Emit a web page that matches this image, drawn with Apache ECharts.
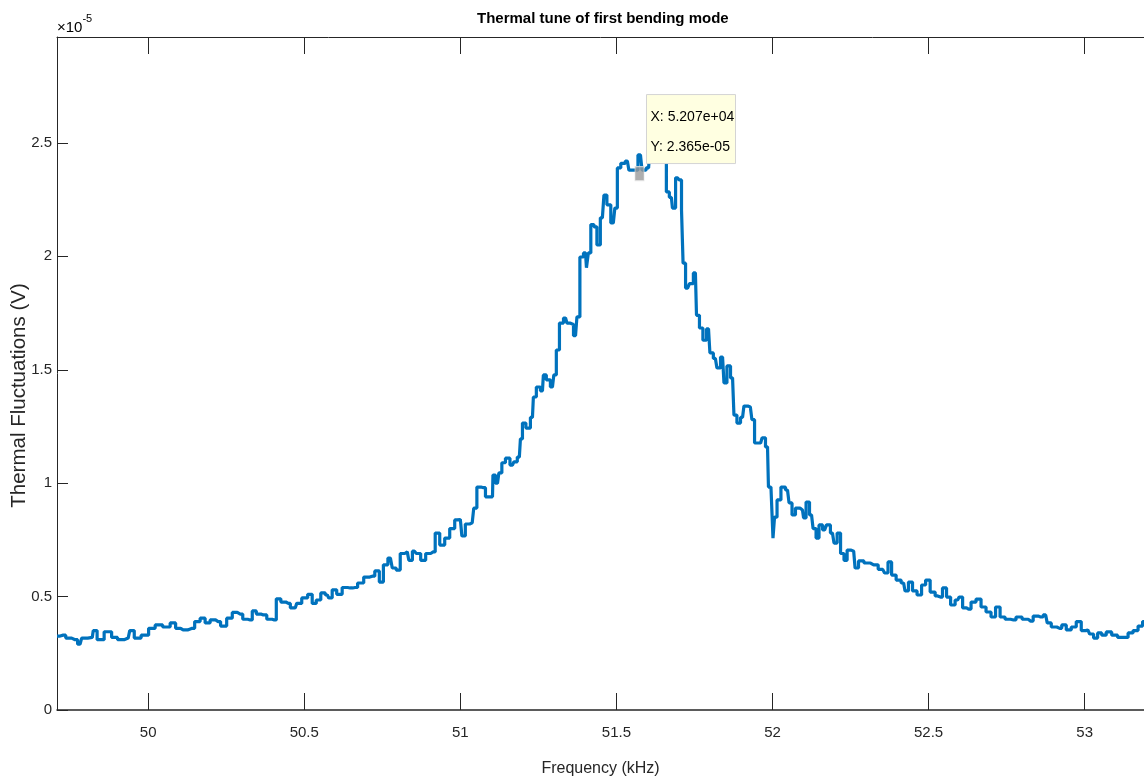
<!DOCTYPE html>
<html>
<head>
<meta charset="utf-8">
<script src="https://cdn.jsdelivr.net/npm/echarts@6/dist/echarts.min.js"></script>
<style>
  html, body { margin: 0; padding: 0; background: #fff; }
  #canvas { width: 1144px; height: 782px; }
</style>
</head>
<body>
<div id="canvas"></div>
<script>
// frequency in kHz, amplitude in units of 1e-5 V
const freqKHz = [
  49.708, 49.728, 49.744, 49.766, 49.782, 49.792, 49.821, 49.827, 49.846, 49.872,
  49.894, 49.910, 49.936, 49.946, 49.965, 49.990, 50.013, 50.032, 50.061, 50.080,
  50.096, 50.112, 50.141, 50.157, 50.176, 50.189, 50.208, 50.224, 50.240, 50.263,
  50.276, 50.295, 50.311, 50.327, 50.340, 50.353, 50.369, 50.391, 50.404, 50.417,
  50.433, 50.449, 50.462, 50.471, 50.481, 50.503, 50.519, 50.532, 50.545, 50.561,
  50.574, 50.583, 50.596, 50.612, 50.631, 50.647, 50.663, 50.679, 50.702, 50.718,
  50.734, 50.747, 50.760, 50.776, 50.788, 50.801, 50.814, 50.830, 50.840, 50.853,
  50.865, 50.881, 50.897, 50.913, 50.926, 50.942, 50.958, 50.974, 50.990, 51.000,
  51.010, 51.022, 51.038, 51.048, 51.058, 51.074, 51.087, 51.103, 51.106, 51.119,
  51.128, 51.138, 51.151, 51.167, 51.176, 51.189, 51.196, 51.202, 51.218, 51.231,
  51.237, 51.250, 51.263, 51.269, 51.282, 51.295, 51.304, 51.311, 51.324, 51.337,
  51.346, 51.356, 51.369, 51.378, 51.388, 51.401, 51.407, 51.413, 51.423, 51.433,
  51.442, 51.455, 51.465, 51.474, 51.490, 51.500, 51.506, 51.522, 51.535, 51.545,
  51.561, 51.577, 51.587, 51.603, 51.612, 51.631, 51.647, 51.657, 51.663, 51.676,
  51.683, 51.696, 51.705, 51.712, 51.715, 51.728, 51.740, 51.753, 51.760, 51.772,
  51.782, 51.795, 51.804, 51.817, 51.827, 51.840, 51.849, 51.859, 51.872, 51.881,
  51.891, 51.904, 51.913, 51.929, 51.939, 51.946, 51.962, 51.971, 51.984, 51.990,
  52.000, 52.003, 52.010, 52.019, 52.035, 52.048, 52.058, 52.067, 52.080, 52.096,
  52.103, 52.112, 52.125, 52.135, 52.144, 52.154, 52.167, 52.179, 52.192, 52.202,
  52.212, 52.224, 52.234, 52.244, 52.260, 52.269, 52.282, 52.304, 52.324, 52.353,
  52.365, 52.375, 52.388, 52.404, 52.420, 52.429, 52.442, 52.455, 52.471, 52.484,
  52.497, 52.513, 52.529, 52.538, 52.551, 52.564, 52.577, 52.593, 52.603, 52.615,
  52.628, 52.644, 52.660, 52.676, 52.692, 52.708, 52.721, 52.737, 52.753, 52.772,
  52.788, 52.811, 52.827, 52.843, 52.859, 52.875, 52.885, 52.901, 52.920, 52.933,
  52.949, 52.965, 52.981, 52.997, 53.010, 53.022, 53.035, 53.048, 53.061, 53.077,
  53.096, 53.115, 53.131, 53.147, 53.163, 53.179, 53.192
];
const amplitude = [
  0.326, 0.330, 0.317, 0.310, 0.290, 0.317, 0.320, 0.350, 0.310, 0.345,
  0.320, 0.310, 0.317, 0.350, 0.317, 0.330, 0.360, 0.375, 0.366, 0.384,
  0.360, 0.353, 0.360, 0.390, 0.405, 0.384, 0.397, 0.390, 0.370, 0.405,
  0.430, 0.423, 0.400, 0.397, 0.437, 0.423, 0.419, 0.400, 0.397, 0.490,
  0.476, 0.470, 0.450, 0.450, 0.470, 0.494, 0.510, 0.470, 0.485, 0.516,
  0.507, 0.494, 0.530, 0.510, 0.540, 0.538, 0.540, 0.560, 0.586, 0.590,
  0.613, 0.564, 0.640, 0.670, 0.626, 0.617, 0.690, 0.697, 0.660, 0.700,
  0.690, 0.660, 0.690, 0.697, 0.780, 0.727, 0.758, 0.800, 0.838, 0.840,
  0.767, 0.820, 0.825, 0.890, 0.983, 0.980, 0.940, 0.940, 1.036, 1.000,
  1.045, 1.090, 1.110, 1.080, 1.094, 1.115, 1.195, 1.265, 1.243, 1.290,
  1.380, 1.424, 1.407, 1.477, 1.455, 1.424, 1.477, 1.587, 1.706, 1.728,
  1.706, 1.700, 1.650, 1.733, 1.997, 2.015, 1.950, 2.015, 2.140, 2.130,
  2.050, 2.170, 2.270, 2.227, 2.147, 2.213, 2.390, 2.410, 2.420, 2.380,
  2.380, 2.447, 2.380, 2.390, 2.470, 2.520, 2.450, 2.480, 2.284, 2.260,
  2.213, 2.346, 2.337, 2.205, 1.970, 1.860, 1.880, 1.927, 1.740, 1.684,
  1.630, 1.680, 1.574, 1.550, 1.508, 1.556, 1.442, 1.517, 1.464, 1.300,
  1.265, 1.290, 1.340, 1.336, 1.280, 1.177, 1.177, 1.200, 1.160, 0.983,
  0.980, 0.758, 0.850, 0.926, 0.983, 0.970, 0.913, 0.860, 0.890, 0.882,
  0.847, 0.917, 0.860, 0.800, 0.758, 0.816, 0.794, 0.816, 0.780, 0.736,
  0.780, 0.690, 0.660, 0.705, 0.700, 0.626, 0.657, 0.648, 0.640, 0.620,
  0.604, 0.653, 0.595, 0.573, 0.560, 0.525, 0.564, 0.525, 0.507, 0.551,
  0.573, 0.520, 0.503, 0.498, 0.538, 0.498, 0.463, 0.485, 0.498, 0.450,
  0.445, 0.476, 0.489, 0.454, 0.432, 0.410, 0.454, 0.410, 0.400, 0.397,
  0.410, 0.400, 0.392, 0.414, 0.410, 0.419, 0.384, 0.366, 0.360, 0.375,
  0.353, 0.366, 0.390, 0.350, 0.353, 0.335, 0.317, 0.340, 0.330, 0.344,
  0.330, 0.320, 0.320, 0.340, 0.350, 0.370, 0.390
];
const xTicks = [50, 50.5, 51, 51.5, 52, 52.5, 53];
const yTicks = [0, 0.5, 1, 1.5, 2, 2.5];
// data tip shown on the plot
const tipPoint = [51.574, 2.365];
const tipText = ['X: 5.207e+04', 'Y: 2.365e-05'];

const sans = "'Liberation Sans', Arial, Helvetica, sans-serif";
const axisColor = '#262626';

let myChart = echarts.init(document.getElementById('canvas'));

let option = {
  backgroundColor: '#fff',
  animation: false,
  title: {
    text: 'Thermal tune of first bending mode',
    left: 472,
    top: 6,
    textStyle: { fontFamily: sans, fontSize: 15, fontWeight: 'bold', color: '#000' }
  },
  grid: { left: 57, right: 0, top: 37, bottom: 72, outerBoundsMode: 'none' },
  graphic: [
    {
      id: 'exponent',
      type: 'text',
      left: 57,
      top: 13,
      style: {
        text: '{a|×10}{b|-5}',
        rich: {
          a: { fontFamily: sans, fontSize: 15, color: axisColor, padding: [7, 0, 0, 0] },
          b: { fontFamily: sans, fontSize: 11, color: axisColor, verticalAlign: 'top' }
        }
      }
    }
  ],
  xAxis: [
    {
      type: 'value',
      min: 49.708,
      max: 53.19,
      name: 'Frequency (kHz)',
      nameLocation: 'middle',
      nameGap: 51,
      nameMoveOverlap: false,
      nameTextStyle: { fontFamily: sans, fontSize: 16, color: axisColor },
      axisLine: { show: true, onZero: false, lineStyle: { color: axisColor, width: 1.5 } },
      axisTick: { show: true, inside: true, length: 17, customValues: xTicks, lineStyle: { color: axisColor } },
      axisLabel: { customValues: xTicks, fontFamily: sans, fontSize: 15, color: axisColor, margin: 15 },
      splitLine: { show: false }
    },
    {
      type: 'value',
      position: 'top',
      min: 49.708,
      max: 53.19,
      axisLine: { show: true, onZero: false, lineStyle: { color: axisColor, width: 1 } },
      axisTick: { show: true, inside: true, length: 17, customValues: xTicks, lineStyle: { color: axisColor } },
      axisLabel: { show: false },
      splitLine: { show: false }
    }
  ],
  yAxis: {
    type: 'value',
    min: 0,
    max: 2.967,
    name: 'Thermal Fluctuations (V)',
    nameLocation: 'middle',
    nameGap: 27,
    nameMoveOverlap: false,
    nameTextStyle: { fontFamily: sans, fontSize: 20.5, color: axisColor, padding: [0, 44, 0, 0] },
    axisLine: { show: true, onZero: false, lineStyle: { color: axisColor, width: 1 } },
    axisTick: { show: true, inside: true, length: 11, customValues: yTicks, lineStyle: { color: axisColor } },
    axisLabel: { customValues: yTicks, fontFamily: sans, fontSize: 15, color: axisColor, margin: 5 },
    splitLine: { show: false }
  },
  series: [
    {
      name: 'fluctuations',
      type: 'line',
      step: 'middle',
      showSymbol: false,
      clip: true,
      lineStyle: { color: '#0072BD', width: 3.2 },
      data: freqKHz.map((f, i) => [f, amplitude[i]])
    },
    {
      name: 'datatip',
      type: 'scatter',
      z: 10,
      symbol: 'rect',
      symbolSize: [9, 14],
      itemStyle: { color: '#9a9a9a', borderColor: '#e0e0e0', borderWidth: 1 },
      data: [tipPoint]
    }
  ]
};

myChart.setOption(option, true);

// data tip box, placed next to the marked point
let p = myChart.convertToPixel({ xAxisIndex: 0, yAxisIndex: 0 }, tipPoint);
myChart.setOption({
  graphic: [
    {
      id: 'exponent'
    },
    {
      id: 'tipbox',
      type: 'group',
      x: p[0] + 7,
      y: p[1] - 79,
      z: 100,
      children: [
        {
          type: 'rect',
          z: 100,
          shape: { x: 0, y: 0, width: 89, height: 69 },
          style: { fill: '#ffffe1', stroke: '#d4d4d4', lineWidth: 1 }
        },
        {
          type: 'text',
          z: 101,
          x: 4,
          y: 8,
          style: {
            text: tipText.join('\n'),
            fontFamily: sans,
            fontSize: 14,
            lineHeight: 30,
            fill: '#000'
          }
        }
      ]
    }
  ]
});
</script>
</body>
</html>
